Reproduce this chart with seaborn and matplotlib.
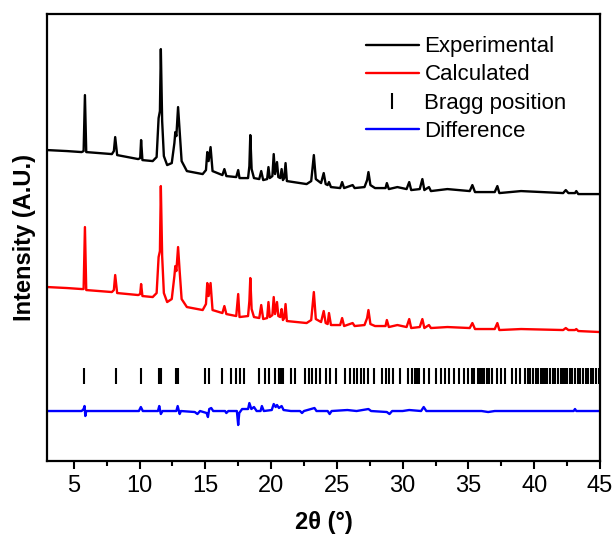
import matplotlib
matplotlib.use('Agg')
import numpy as np
import pandas as pd
import matplotlib.pyplot as plt
import seaborn as sns

# --- datos (intensidad en u.a., ya desplazadas) ---
exp_2theta = [3.0, 4.5, 5.6, 5.75, 5.85, 5.95, 7.9, 8.05, 8.15, 8.3, 9.9, 10.05, 10.12, 10.22,
              11.0, 11.3, 11.45, 11.55, 11.62, 11.72, 11.85, 12.1, 12.45, 12.65, 12.72, 12.8,
              12.93, 13.05, 13.2, 13.6, 14.8, 15.05, 15.15, 15.25, 15.4, 15.55, 16.3, 16.45,
              16.6, 17.35, 17.5, 17.6, 18.25, 18.35, 18.42, 18.52, 18.7, 19.1, 19.25, 19.4,
              19.7, 19.8, 19.9, 20.1, 20.2, 20.3, 20.45, 20.55, 20.7, 20.8, 20.9, 21.0, 21.1,
              21.2, 22.7, 23.05, 23.25, 23.4, 23.8, 24.0, 24.15, 24.3, 24.4, 24.55, 25.25,
              25.4, 25.55, 26.2, 26.35, 27.1, 27.3, 27.4, 27.55, 27.9, 28.7, 28.8, 28.95,
              29.6, 30.3, 30.5, 30.65, 31.3, 31.5, 31.65, 32.0, 32.15, 33.4, 35.1, 35.3,
              35.5, 37.0, 37.2, 37.35, 39.0, 42.2, 42.4, 42.6, 43.1, 43.2, 43.35, 45.0]
exp_int = [311, 310, 309, 310, 366, 309, 307, 310, 324, 306, 302, 303, 321, 301,
           300, 304, 343, 350, 412, 340, 305, 296, 298, 318, 329, 325,
           354, 330, 300, 290, 287, 291, 309, 300, 314, 290, 286, 292,
           285, 284, 291, 283, 283, 295, 326, 292, 283, 282, 290, 281,
           282, 294, 283, 285, 307, 287, 299, 284, 283, 292, 281, 283, 298,
           280, 277, 280, 306, 282, 278, 288, 277, 276, 279, 274, 273,
           279, 273, 276, 273, 274, 281, 289, 276, 273, 273, 278, 272,
           274, 272, 279, 271, 272, 282, 271, 274, 270, 272, 270, 276,
           269, 269, 275, 268, 270, 268, 271, 268, 268, 270, 267, 267]

calc_2theta = exp_2theta
calc_int = [174, 173, 172, 172, 234, 171, 169, 171, 186, 168, 166, 167, 177, 165,
            164, 168, 204, 210, 275, 205, 168, 159, 162, 185, 195, 190,
            214, 190, 162, 154, 151, 157, 178, 165, 178, 151, 148, 155,
            147, 145, 167, 144, 145, 160, 183, 152, 144, 143, 156, 142,
            143, 159, 144, 146, 164, 147, 159, 145, 144, 152, 141, 143, 157,
            140, 138, 141, 169, 142, 139, 150, 138, 137, 148, 136, 136,
            143, 135, 138, 135, 136, 143, 151, 137, 135, 135, 141, 134,
            136, 134, 142, 133, 134, 142, 133, 136, 133, 134, 133, 138,
            132, 132, 138, 131, 132, 131, 133, 131, 131, 132, 130, 129]

diff_2theta = [3.0, 5.6, 5.75, 5.82, 5.88, 5.95, 9.95, 10.1, 10.25, 11.4, 11.5, 11.62, 11.75,
               12.8, 12.9, 13.05, 13.15, 14.2, 14.4, 14.6, 15.1, 15.2, 15.3, 15.45, 15.6,
               16.5, 16.6, 16.75, 17.4, 17.5, 17.58, 17.8, 18.25, 18.35, 18.5, 18.7, 18.9,
               19.2, 19.3, 19.45, 20.05, 20.2, 20.35, 20.45, 20.6, 20.8, 20.95, 21.5, 22.2,
               22.35, 22.5, 23.3, 23.45, 24.3, 24.45, 24.6, 25.8, 26.5, 27.4, 27.6, 28.8,
               29.0, 29.2, 30.0, 30.5, 31.4, 31.6, 31.8, 36.0, 36.5, 37.0, 43.0, 43.1,
               43.2, 45.0]
diff_int = [50, 50, 52, 55, 45, 50, 50, 54, 50, 50, 55, 47, 50,
            50, 55, 47, 50, 49, 47, 50, 48, 44, 52, 53, 50,
            50, 48, 50, 50, 36, 48, 52, 52, 58, 52, 54, 50,
            50, 55, 50, 51, 57, 54, 56, 53, 55, 51, 50, 50,
            48, 50, 53, 50, 50, 47, 50, 51, 50, 52, 50, 49,
            47, 50, 50, 51, 50, 54, 50, 50, 49, 50, 50, 52,
            50, 50]

bragg_2theta = [5.8, 8.2, 10.1, 11.45, 11.65, 12.75, 12.95, 15.0, 15.25, 16.25, 16.95, 17.35,
                17.65, 17.95, 19.1, 19.5, 19.85, 20.3, 20.6, 20.75, 20.9, 21.5, 21.8, 22.6,
                22.9, 23.1, 23.4, 23.7, 24.15, 24.5, 24.95, 25.6, 26.0, 26.3, 26.55, 26.8,
                27.05, 27.4, 27.8, 28.4, 28.7, 28.95, 29.3, 29.8, 30.4, 30.7, 30.95, 31.1,
                31.25, 31.6, 32.0, 32.5, 32.9, 33.2, 33.5, 33.9, 34.3, 34.7, 35.0, 35.25,
                35.45, 35.7, 35.85, 36.0, 36.2, 36.4, 36.55, 36.8, 37.2, 37.5, 37.8, 38.3,
                38.6, 38.9, 39.3, 39.5, 39.7, 39.9, 40.1, 40.3, 40.5, 40.65, 40.8, 41.0,
                41.2, 41.4, 41.6, 41.8, 42.0, 42.2, 42.35, 42.5, 42.7, 42.9, 43.1, 43.3,
                43.5, 43.7, 43.9, 44.1, 44.3, 44.5, 44.7, 44.9]
bragg_nivel = 85.5

sns.set_theme(style="ticks")
plt.rcParams['font.family'] = ['Liberation Sans', 'DejaVu Sans']
plt.rcParams['text.color'] = 'black'
plt.rcParams['axes.labelcolor'] = 'black'
plt.rcParams['xtick.color'] = 'black'

fig = plt.figure(figsize=(6.16, 5.43), dpi=100)
ax = fig.add_axes([0.077, 0.151, 0.897, 0.823])

df_exp = pd.DataFrame({'x': exp_2theta, 'y': exp_int})
df_calc = pd.DataFrame({'x': calc_2theta, 'y': calc_int})
df_diff = pd.DataFrame({'x': diff_2theta, 'y': diff_int})

sns.lineplot(data=df_exp, x='x', y='y', color='black', lw=1.7, sort=False,
             estimator=None, ax=ax, label='Experimental')
sns.lineplot(data=df_calc, x='x', y='y', color='#ff0000', lw=1.7, sort=False,
             estimator=None, ax=ax, label='Calculated')
ax.plot(bragg_2theta, [bragg_nivel] * len(bragg_2theta), ls='none', marker='|',
        ms=12, mew=1.5, color='black', label='Bragg position')
sns.lineplot(data=df_diff, x='x', y='y', color='#0000ff', lw=1.7, sort=False,
             estimator=None, ax=ax, label='Difference')

ax.set_xlim(3, 45)
ax.set_ylim(0, 447)
ax.set_xticks(np.arange(5, 46, 5))
ax.set_xticks(np.arange(7.5, 45, 5), minor=True)
ax.set_yticks([])
ax.tick_params(axis='x', which='major', direction='out', length=6, width=1.5,
               labelsize=17, pad=4, color='black', labelcolor='black')
ax.tick_params(axis='x', which='minor', direction='out', length=3.5, width=1.5, color='black')
for s in ax.spines.values():
    s.set_linewidth(1.6)
    s.set_color('black')

ax.set_xlabel('2θ (°)', fontsize=17, fontweight='bold', labelpad=10)
ax.set_ylabel('Intensity (A.U.)', fontsize=17, fontweight='bold', labelpad=8)

ax.legend(loc='upper right', bbox_to_anchor=(0.972, 0.99), frameon=False, fontsize=16,
          handlelength=2.4, handletextpad=0.25, labelspacing=0.32, borderpad=0.3)

fig.savefig('out.png', dpi=100)
